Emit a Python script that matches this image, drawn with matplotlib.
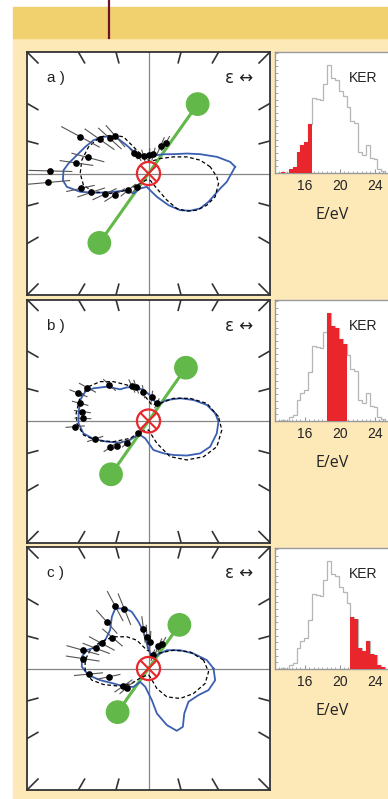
import numpy as np
import matplotlib
matplotlib.use("Agg")
import matplotlib.pyplot as plt
from matplotlib.patches import Circle, Rectangle
from matplotlib.lines import Line2D
from matplotlib.collections import LineCollection
from matplotlib.ticker import MultipleLocator

plt.rcParams["font.family"] = ["Liberation Sans", "DejaVu Sans"]

# ---- KER histogram (same spectrum in every panel, different selected window)
ker_edges = [12.86, 13.30, 13.74, 14.18, 14.62, 15.06, 15.50, 15.94, 16.38, 16.82,
             17.26, 17.70, 18.14, 18.58, 19.02, 19.46, 19.90, 20.34, 20.78, 21.22,
             21.66, 22.10, 22.54, 22.98, 23.42, 23.86, 24.30, 24.74, 25.18]
ker_counts = [0, 4, 1, 12, 18, 62, 83, 93, 146, 225, 222, 220, 268, 323, 285, 278,
              246, 232, 198, 156, 150, 62, 54, 83, 45, 42, 12, 6]
ker_windows = [(12.86, 16.82), (18.58, 20.78), (21.22, 25.18)]

# ---- angular distributions (angle in deg, radius in box half-widths)
a_blue_th = [4.4, 8.1, 13.7, 20.5, 27.5, 37.7, 52, 65.5, 84, 114.5, 124, 128, 132,
             140.8, 148.8, 157.2, 167.2, 172.9, 177.8, 184.5, 189.3, 195, 200.5, 207.7,
             217.6, 233.3, 240.7, 262.7, 280, 289.8, 302.3, 310.8, 318.2, 325.9, 334.7,
             348.2, 353.9]
a_blue_r = [0.715, 0.679, 0.579, 0.454, 0.356, 0.260, 0.201, 0.166, 0.138, 0.166, 0.22,
            0.30, 0.41, 0.478, 0.529, 0.565, 0.619, 0.664, 0.700, 0.707, 0.681, 0.582,
            0.454, 0.325, 0.225, 0.206, 0.141, 0.111, 0.153, 0.204, 0.309, 0.399, 0.460,
            0.513, 0.546, 0.603, 0.648]
a_dash_th = [6.2, 14.5, 23.4, 33.6, 52, 80, 106.7, 119.3, 124.3, 132.3, 142.8, 156.1,
             168.7, 180, 190.2, 198.4, 207.6, 217.6, 229.9, 260, 285, 299, 304.6, 309,
             315.6, 322.8, 331.5, 340.7, 351.9, 357.2]
a_dash_r = [0.511, 0.439, 0.344, 0.247, 0.156, 0.10, 0.143, 0.251, 0.365, 0.427, 0.500,
            0.540, 0.560, 0.562, 0.544, 0.477, 0.356, 0.225, 0.107, 0.05, 0.06, 0.141,
            0.266, 0.371, 0.442, 0.500, 0.546, 0.581, 0.582, 0.563]
a_pts_th = [178.5, 185.1, 171.7, 165.2, 151.7, 145, 137.8, 131.5, 126.7, 120.2, 106, 87,
            75.5, 66.3, 60.4, 192.4, 198.3, 205.2, 212.5, 219.4, 229.8]
a_pts_r = [0.807, 0.828, 0.599, 0.516, 0.636, 0.492, 0.429, 0.410, 0.206, 0.175, 0.149,
           0.151, 0.164, 0.246, 0.284, 0.573, 0.497, 0.400, 0.330, 0.216, 0.144]
a_pts_err = [0.18, 0.18, 0.14, 0.14, 0.18, 0.15, 0.13, 0.12, 0.06, 0.055, 0.055, 0.055,
             0.055, 0.08, 0.07, 0.12, 0.12, 0.11, 0.10, 0.08, 0.06]

b_blue_th = [6.5, 15.4, 25, 35.6, 48.9, 62.4, 82.3, 99.1, 111.2, 122.7, 131.8, 140.5,
             149.3, 155.2, 162.9, 173.8, 181.9, 190.8, 198.1, 206.4, 217.4, 225.9, 232.5,
             259, 279.7, 294.8, 306.3, 318, 327.9, 337.4, 349.7, 359.5]
b_blue_r = [0.553, 0.498, 0.409, 0.321, 0.229, 0.149, 0.202, 0.258, 0.303, 0.329, 0.350,
            0.444, 0.527, 0.574, 0.588, 0.579, 0.576, 0.545, 0.476, 0.383, 0.293, 0.217,
            0.135, 0.145, 0.242, 0.293, 0.347, 0.425, 0.502, 0.550, 0.571, 0.576]
b_dash_th = [3.6, 16.8, 28.6, 42.2, 56.5, 78, 105.1, 121, 131.6, 140.8, 150.2, 160.4,
             174, 181.8, 192.2, 200.8, 210.5, 223.4, 231.9, 270, 290.6, 301.2, 314.6,
             327, 339.4, 353]
b_dash_r = [0.577, 0.502, 0.390, 0.278, 0.174, 0.135, 0.264, 0.346, 0.433, 0.513, 0.569,
            0.597, 0.599, 0.590, 0.547, 0.455, 0.335, 0.208, 0.112, 0.074, 0.196, 0.343,
            0.450, 0.540, 0.601, 0.608]
b_pts_th = [64.5, 82.2, 99.7, 109.8, 115.4, 137.3, 151.4, 158.4, 165.5, 171.9, 177.7,
            184.4, 198.6, 214.5, 218.3, 225, 231]
b_pts_r = [0.161, 0.202, 0.245, 0.301, 0.319, 0.437, 0.572, 0.620, 0.581, 0.549, 0.541,
           0.605, 0.463, 0.383, 0.332, 0.252, 0.131]
b_pts_err = [0.045, 0.05, 0.055, 0.06, 0.06, 0.07, 0.08, 0.08, 0.07, 0.07, 0.07, 0.08,
             0.07, 0.065, 0.065, 0.055, 0.045]

c_blue_th = [0, 8.2, 18.4, 30, 45, 52, 66.8, 83.5, 94, 97.7, 102.1, 106.4, 111.2, 119,
             125.4, 135, 146.9, 157.3, 163.4, 170, 178.5, 186.3, 193.6, 203.2, 218.2,
             230.8, 238, 260, 276, 280.6, 288, 294.4, 300.5, 308.5, 320.2, 332, 340.2, 350]
c_blue_r = [0.535, 0.485, 0.390, 0.301, 0.213, 0.156, 0.104, 0.124, 0.206, 0.305, 0.393,
            0.486, 0.530, 0.565, 0.521, 0.447, 0.426, 0.461, 0.530, 0.557, 0.549, 0.497,
            0.409, 0.313, 0.244, 0.195, 0.130, 0.153, 0.262, 0.377, 0.490, 0.563, 0.557,
            0.473, 0.428, 0.466, 0.525, 0.557]
c_dash_th = [8.7, 21.8, 36.2, 60.7, 95.3, 112.4, 124.3, 137.8, 151.2, 162.5, 172.5, 183,
             191.6, 199.6, 210.4, 222, 231.5, 270, 281, 292.7, 302.9, 316.6, 330.9,
             345.2, 356.9]
c_dash_r = [0.458, 0.369, 0.255, 0.141, 0.152, 0.252, 0.316, 0.389, 0.454, 0.503, 0.526,
            0.522, 0.476, 0.393, 0.286, 0.184, 0.088, 0.054, 0.070, 0.179, 0.278, 0.359,
            0.424, 0.482, 0.495]
c_pts_th = [61, 65.9, 71.9, 86.4, 93, 97.3, 112.1, 118.1, 131.8, 139.3, 151.8, 159,
            164.4, 171.4, 185.4, 191.8, 214.8, 221.3]
c_pts_r = [0.226, 0.201, 0.115, 0.220, 0.261, 0.324, 0.527, 0.582, 0.515, 0.391, 0.436,
           0.461, 0.561, 0.547, 0.496, 0.336, 0.251, 0.237]
c_pts_err = [0.07, 0.07, 0.05, 0.09, 0.10, 0.11, 0.14, 0.14, 0.13, 0.11, 0.12, 0.12,
             0.14, 0.14, 0.12, 0.10, 0.09, 0.08]

# molecular axis: angle (deg) and half length for each KER window
mol_angle = [54.7, 54.9, 54.7]
mol_half = [0.70, 0.536, 0.44]
labels = ["a )", "b )", "c )"]

BLUE = "#3a5fb2"
GREEN = "#62b848"
RED = "#e8262c"
CREAM = "#fde8b8"
GOLD = "#f1d06e"
MAROON = "#6e1030"

W, H = 388, 799
fig = plt.figure(figsize=(W / 100, H / 100), dpi=100, facecolor="white")


def px_axes(left, top, w, h):
    return fig.add_axes([left / W, 1 - (top + h) / H, w / W, h / H])


fig.patches.append(Rectangle((13 / W, 0), 1, (H - 38) / H, transform=fig.transFigure,
                             color=CREAM, zorder=-10))
fig.patches.append(Rectangle((13 / W, (H - 38) / H), 1, 31 / H, transform=fig.transFigure,
                             color=GOLD, zorder=-10))
fig.add_artist(Line2D([108.5 / W, 108.5 / W], [1, (H - 38) / H], color=MAROON, lw=1.6,
                      zorder=-5))


def to_xy(th, r):
    t = np.radians(th)
    r = np.asarray(r)
    return r * np.cos(t), r * np.sin(t)


def polar_panel(top, label, blue, dashed, pts, ang, half):
    ax = px_axes(27, top, 243, 243)
    ax.set_xlim(-1, 1)
    ax.set_ylim(-1, 1)
    ax.set_xticks([])
    ax.set_yticks([])
    for s in ax.spines.values():
        s.set_color("#333333")
        s.set_linewidth(1.3)
    ax.axhline(0, color="#858585", lw=0.9, zorder=1)
    ax.axvline(0, color="#858585", lw=0.9, zorder=1)

    segs = []
    for deg in range(15, 360, 15):
        if deg % 90 == 0:
            continue
        phi = np.radians(deg)
        c, s = np.cos(phi), np.sin(phi)
        rb = 1 / max(abs(c), abs(s))
        segs.append([(0.905 * rb * c, 0.905 * rb * s), (rb * c, rb * s)])
    ax.add_collection(LineCollection(segs, colors="#333333", linewidths=1.2))

    # molecule
    t = np.radians(ang)
    x1, y1 = half * np.cos(t), half * np.sin(t)
    ax.plot([-x1, x1], [-y1, y1], color=GREEN, lw=2.2, zorder=2)
    for sx in (1, -1):
        ax.add_patch(Circle((sx * x1, sx * y1), 0.092, color=GREEN, zorder=2))

    bx, by = to_xy(blue[0] + blue[0][:1], blue[1] + blue[1][:1])
    ax.plot(bx, by, color=BLUE, lw=1.3, zorder=3)
    dx, dy = to_xy(dashed[0] + dashed[0][:1], dashed[1] + dashed[1][:1])
    ax.plot(dx, dy, color="black", lw=0.9, ls=(0, (3, 2)), zorder=3)

    th, r, e = pts
    r = np.asarray(r)
    e = np.asarray(e)
    lo = np.column_stack(to_xy(th, r - e))
    hi = np.column_stack(to_xy(th, r + e))
    ax.add_collection(LineCollection(np.stack([lo, hi], axis=1), colors="#555555",
                                     linewidths=0.8, zorder=4))
    px, py = to_xy(th, r)
    ax.plot(px, py, "o", color="black", ms=3.8, zorder=5)

    ax.add_patch(Circle((0, 0), 0.095, fill=False, ec=RED, lw=1.6, zorder=6))
    k = 0.062
    ax.plot([-k, k], [-k, k], color=RED, lw=1.5, zorder=6)
    ax.plot([-k, k], [k, -k], color=RED, lw=1.5, zorder=6)

    ax.text(0.082, 0.893, label, transform=ax.transAxes, fontsize=11, va="center",
            ha="left", color="#222222")
    ax.text(0.93, 0.893, "\u03b5 \u2194", transform=ax.transAxes, fontsize=12,
            va="center", ha="right", color="#222222",
            family=["DejaVu Sans", "Liberation Sans"])


def ker_panel(top, window):
    ax = px_axes(275, top, 122.5, 121)
    edges = np.asarray(ker_edges)
    counts = np.asarray(ker_counts)
    ax.stairs(counts, edges, color="#b5b5b5", lw=0.9, baseline=0, zorder=2)
    lo, hi = window
    idx = np.where((edges[:-1] >= lo - 1e-6) & (edges[1:] <= hi + 1e-6))[0]
    ax.stairs(counts[idx], edges[idx[0]: idx[-1] + 2], fill=True, color=RED, zorder=3)
    ax.set_xlim(12.6, 26.6)
    ax.set_ylim(0, 363)
    ax.set_xticks([16, 20, 24])
    ax.xaxis.set_minor_locator(MultipleLocator(0.5))
    ax.yaxis.set_major_locator(MultipleLocator(20))
    ax.tick_params(axis="x", which="major", direction="in", length=3, width=0.8,
                   color="#999999", labelsize=10, pad=4.5, labelcolor="#222222")
    ax.tick_params(axis="x", which="minor", direction="in", length=1.8, width=0.6,
                   color="#999999")
    ax.tick_params(axis="y", which="major", direction="in", length=1.8, width=0.6,
                   color="#999999", labelleft=False)
    for s in ax.spines.values():
        s.set_color("#9a9a9a")
        s.set_linewidth(1.0)
    ax.text(0.718, 0.785, "KER", transform=ax.transAxes, fontsize=10, ha="center",
            va="center", color="#222222")
    ax.text(0.465, -0.35, "E/eV", transform=ax.transAxes, fontsize=11.5, ha="center",
            va="center", color="#222222", family=["Open Sans", "DejaVu Sans"])


panels = [
    ((a_blue_th, a_blue_r), (a_dash_th, a_dash_r), (a_pts_th, a_pts_r, a_pts_err)),
    ((b_blue_th, b_blue_r), (b_dash_th, b_dash_r), (b_pts_th, b_pts_r, b_pts_err)),
    ((c_blue_th, c_blue_r), (c_dash_th, c_dash_r), (c_pts_th, c_pts_r, c_pts_err)),
]
polar_tops = [52, 299.5, 547]
hist_tops = [52, 300, 548]

for i, (blue, dashed, pts) in enumerate(panels):
    polar_panel(polar_tops[i], labels[i], blue, dashed, pts, mol_angle[i], mol_half[i])
    ker_panel(hist_tops[i], ker_windows[i])

fig.savefig("out.png", dpi=100, facecolor=fig.get_facecolor())
